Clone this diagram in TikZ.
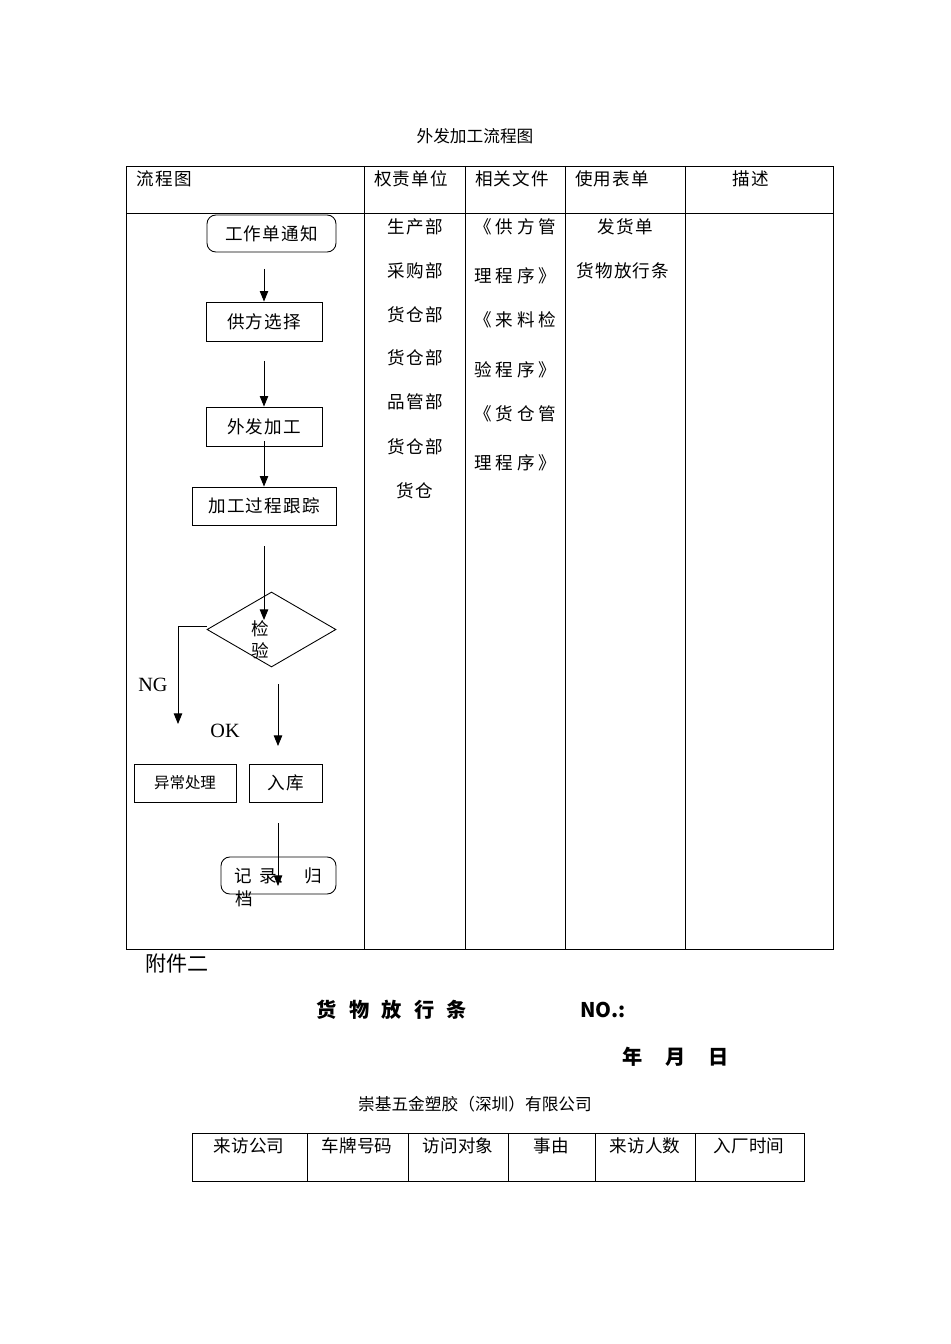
\documentclass[tikz,border=0pt]{standalone}
\usepackage{fontspec}
\setmainfont{Noto Sans CJK SC}
\newfontfamily\latinfont{Liberation Serif}
\usetikzlibrary{arrows.meta, positioning, shapes.geometric}

\begin{document}
\begin{tikzpicture}[x=0.02cm, y=-0.02cm, font=\fontsize{10}{12}\selectfont,
  >={Triangle[length=6pt,width=4.8pt]}, line width=0.5pt,
  box/.style={draw, inner sep=0pt, minimum height=0.78cm, font=\fontsize{10}{12}\selectfont\addfontfeature{LetterSpace=7}},
  rbox/.style={box, rounded corners=5pt, minimum height=0.74cm},
  txt/.style={inner sep=0pt},
  wide/.style={txt, font=\fontsize{10}{12}\selectfont\addfontfeature{LetterSpace=7}},
  big/.style={font=\fontsize{11.5}{13}\selectfont\bfseries}]
  \useasboundingbox (0,0) rectangle (950,1344);
  % title and flow table
  \node[txt, font=\fontsize{9.5}{11}\selectfont] (title) at (475,136) {外发加工流程图};
  \draw (126,166) rectangle (833,949);
  \draw (126,213) -- (833,213);
  \foreach \x in {364,465,565,685} \draw (\x,166) -- (\x,949);
  \node[wide, anchor=west] (h1) at (136,179) {流程图};
  \node[wide] (h2) at (411,179) {权责单位};
  \node[wide] (h3) at (512,179) {相关文件};
  \node[wide] (h4) at (612,179) {使用表单};
  \node[wide] (h5) at (751,179) {描述};
  % flow chart
  \node[rbox, minimum width=2.58cm] (notice) at (271.5,233.5) {工作单通知\hspace{3.5pt}};
  \node[box, minimum width=2.32cm] (supplier) at (264,321.5) {供方选择\hspace{8pt}};
  \node[box, minimum width=2.32cm] (outwork) at (264,426.5) {外发加工\hspace{8.5pt}};
  \node[box, minimum width=2.88cm, minimum height=0.76cm] (track) at (264,506) {加工过程跟踪\hspace{3pt}};
  \node[diamond, draw, inner sep=0pt, aspect=1.72, minimum width=2.58cm, minimum height=1.5cm] (check) at (271.5,629.5) {};
  \node[txt, align=center, font=\fontsize{10}{12.5}\selectfont] (checktxt) at (260,640) {检\\验};
  \node[box, minimum width=2.04cm, minimum height=0.76cm, font=\fontsize{8.8}{10}\selectfont] (reject) at (185,783) {异常处理\hspace{5pt}};
  \node[box, minimum width=1.46cm, minimum height=0.76cm] (store) at (285.5,783) {入库\hspace{5.5pt}};
  \node[rbox, minimum width=2.3cm] (record) at (278.5,875.5) {};
  \node[txt] (rectxt) at (278.5,876) {记\hspace{4pt}录、\hspace{6pt}归};
  \node[txt] (rectxt2) at (244,899) {档};
  \node[txt, font=\latinfont\fontsize{11.5}{13}\selectfont] (ng) at (153,685) {NG};
  \node[txt, font=\latinfont\fontsize{11.5}{13}\selectfont] (ok) at (225,731) {OK};
  \coordinate (s1) at (264,269);
  \coordinate (s2) at (264,361);
  \coordinate (s3) at (264,441);
  \coordinate (s4) at (264,546);
  \coordinate (e4) at (264,620);
  \coordinate (ngend) at (178,724);
  \coordinate (s5) at (278,684);
  \coordinate (e5) at (278,746);
  \coordinate (s6) at (278,823);
  \coordinate (e6) at (278,886);
  \draw[->] (s1) -- (supplier.north);
  \draw[->] (s2) -- (outwork.north);
  \draw[->] (s3) -- (track.north);
  \draw[->] (s4) -- (e4);
  \draw[->] ([yshift=2pt]check.west) -| (ngend);
  \draw[->] (s5) -- (e5);
  \draw[->] (s6) -- (e6);
  % columns
  \foreach \t/\y [count=\i] in {生产部/227, 采购部/271, 货仓部/315, 货仓部/358, 品管部/402, 货仓部/447, 货仓/491}
    \node[wide] (unit\i) at (415,\y) {\t};
  \foreach \t/\y [count=\i] in {《供方管/227, 理程序》/276, 《来料检/320, 验程序》/370, 《货仓管/414, 理程序》/463}
    \node[txt, anchor=west, font=\fontsize{10}{12}\selectfont\addfontfeature{LetterSpace=22}] (doc\i) at (474,\y) {\t};
  \node[wide] (form1) at (625,227) {发货单};
  \node[wide, anchor=west] (form2) at (576,271) {货物放行条};
  % release slip
  \node[txt, font=\fontsize{12}{14}\selectfont] (annex) at (177,963) {附件二};
  \node[txt, big] (slip) at (392,1010) {货\hspace{7pt}物\hspace{7pt}放\hspace{7pt}行\hspace{7pt}条};
  \node[txt, big] (no) at (603,1010) {NO.:};
  \node[txt, big] (date) at (676,1057) {年\hspace{13pt}月\hspace{13pt}日};
  \node[txt, font=\fontsize{9.5}{11}\selectfont] (company) at (475,1104) {崇基五金塑胶（深圳）有限公司};
  \draw (192,1133) rectangle (804,1181);
  \foreach \x in {307,408,508,595,695} \draw (\x,1133) -- (\x,1181);
  \foreach \t/\x [count=\i] in {来访公司/249, 车牌号码/357, 访问对象/458, 事由/551, 来访人数/645, 入厂时间/749}
    \node[txt] (col\i) at (\x,1146) {\t};
\end{tikzpicture}
\end{document}
